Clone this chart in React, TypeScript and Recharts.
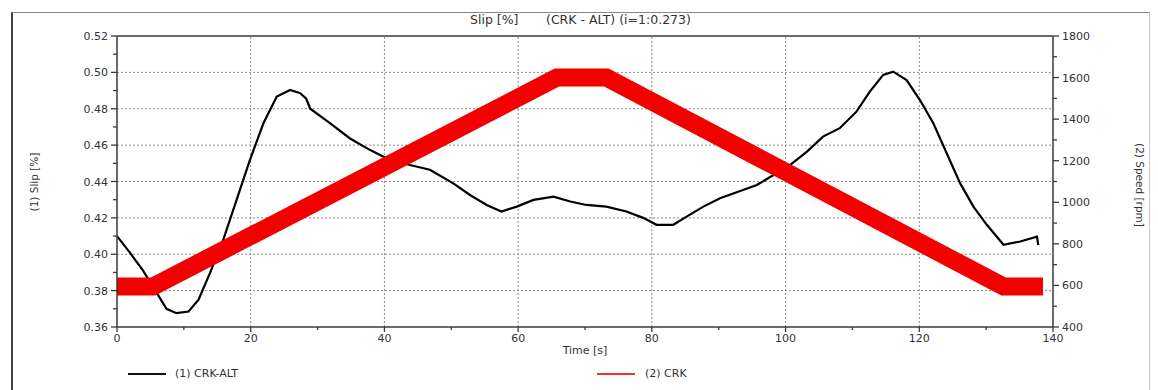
import React from 'react';
import { LineChart, Line, XAxis, YAxis, ReferenceLine } from 'recharts';

// time axis [s]
const timeMajor = [0, 20, 40, 60, 80, 100, 120, 140];
const timeMinor = [10, 30, 50, 70, 90, 110, 130];
// left axis, slip [%]
const slipMajor = [0.36, 0.38, 0.4, 0.42, 0.44, 0.46, 0.48, 0.5, 0.52];
const slipMinor = [0.37, 0.39, 0.41, 0.43, 0.45, 0.47, 0.49, 0.51];
// right axis, speed [rpm]
const speedMajor = [400, 600, 800, 1000, 1200, 1400, 1600, 1800];
const speedMinor = [500, 700, 900, 1100, 1300, 1500, 1700];

// (1) CRK-ALT slip
const slipTime = [
  0, 1.9, 3.9, 5.9, 7.4, 8.9, 10.7, 12.2, 13.9, 15.9, 17.9, 19.9, 21.9, 23.9, 25.9, 27.4, 28.3, 28.9, 31.9,
  34.8, 37.8, 39.8, 43.8, 46.8, 50.3, 52.8, 55.3, 57.5, 59.8, 62.3, 65.3, 67.8, 70.2, 73.2, 76.2, 78.7,
  80.7, 83.2, 85.2, 87.7, 90.2, 93.0, 95.7, 98.2, 100.7, 103.2, 105.6, 108.1, 110.6, 112.6, 114.6,
  116.1, 118.1, 120.1, 122.1, 124.1, 126.1, 128.1, 130.1, 132.6, 135.1, 137.6, 137.8,
];
const slipValue = [
  0.41, 0.401, 0.391, 0.379, 0.37, 0.3676, 0.3685, 0.375, 0.3896, 0.408, 0.43, 0.452, 0.472, 0.4867,
  0.4903, 0.4885, 0.4855, 0.48, 0.472, 0.4638, 0.4574, 0.4537, 0.4491, 0.4465, 0.439, 0.4326, 0.4271, 0.4235,
  0.4262, 0.4299, 0.4317, 0.429, 0.4271, 0.4262, 0.4235, 0.42, 0.4162, 0.4162, 0.4207, 0.4262, 0.4308,
  0.4345, 0.4381, 0.4436, 0.4491, 0.4564, 0.4647, 0.4693, 0.4784, 0.4894, 0.4986, 0.5004, 0.4958,
  0.4848, 0.472, 0.4555, 0.4391, 0.4262, 0.4162, 0.4052, 0.407, 0.4097, 0.405,
];

// (2) CRK speed
const speedTime = [0, 5.4, 65.8, 73.2, 132.6, 138.5];
const speedValue = [595, 595, 1600, 1600, 595, 595];

const slipRows = slipTime.map((t, i) => ({ t, v: slipValue[i] }));
const speedRows = speedTime.map((t, i) => ({ t, v: speedValue[i] }));

const FONT = '"DejaVu Sans", "Liberation Sans", Arial, sans-serif';
const AXIS = '#3a3a3a';
const TEXT = '#333';

const isIn = (list: number[], v: number) => list.some((m) => Math.abs(m - v) < 1e-6);

const XTick = (props: any) => {
  const { x, y, payload } = props;
  const major = isIn(timeMajor, payload.value);
  return (
    <g>
      <line x1={x} x2={x} y1={y} y2={y + (major ? 5 : 3)} stroke={AXIS} strokeWidth={1.3} />
      {major && (
        <text x={x} y={y + 15} textAnchor="middle" fontSize={11} fill={TEXT} fontFamily={FONT}>
          {payload.value}
        </text>
      )}
    </g>
  );
};

const LeftTick = (props: any) => {
  const { x, y, payload } = props;
  const major = isIn(slipMajor, payload.value);
  return (
    <g>
      <line x1={x - (major ? 6 : 4)} x2={x} y1={y} y2={y} stroke={AXIS} strokeWidth={1.3} />
      {major && (
        <text x={x - 9} y={y + 4} textAnchor="end" fontSize={11} fill={TEXT} fontFamily={FONT}>
          {payload.value.toFixed(2)}
        </text>
      )}
    </g>
  );
};

const RightTick = (props: any) => {
  const { x, y, payload } = props;
  const major = isIn(speedMajor, payload.value);
  return (
    <g>
      <line x1={x} x2={x + (major ? 6 : 4)} y1={y} y2={y} stroke={AXIS} strokeWidth={1.3} />
      {major && (
        <text x={x + 9} y={y + 4} textAnchor="start" fontSize={11} fill={TEXT} fontFamily={FONT}>
          {payload.value}
        </text>
      )}
    </g>
  );
};

const txt: React.CSSProperties = {
  position: 'absolute',
  fontFamily: FONT,
  color: TEXT,
  whiteSpace: 'nowrap',
  lineHeight: 1,
};

export default function App() {
  const gridX = timeMajor.slice(1, -1);
  const gridY = slipMajor.slice(1, -1);
  return (
    <div style={{ position: 'absolute', left: 0, top: 0, width: 1158, height: 390, background: '#fff', overflow: 'hidden' }}>
      <div
        style={{
          position: 'absolute',
          left: 11,
          top: 12,
          width: 1136,
          height: 400,
          borderLeft: '2px solid #444',
          borderTop: '1px solid #888',
          borderRight: '1px solid #c8c8c8',
        }}
      />
      <LineChart width={1158} height={390} margin={{ top: 36, right: 45, bottom: 33, left: 57 }} style={{ position: 'absolute', left: 0, top: 0 }}>
        <XAxis
          dataKey="t"
          type="number"
          domain={[0, 140]}
          ticks={[...timeMajor, ...timeMinor].sort((a, b) => a - b)}
          interval={0}
          height={30}
          tickSize={0}
          tickMargin={0}
          tickLine={false}
          tick={XTick}
          axisLine={{ stroke: AXIS, strokeWidth: 1.5 }}
          allowDataOverflow
        />
        <YAxis
          yAxisId="slip"
          type="number"
          domain={[0.36, 0.52]}
          ticks={[...slipMajor, ...slipMinor].sort((a, b) => a - b)}
          interval={0}
          width={60}
          tickSize={0}
          tickMargin={0}
          tickLine={false}
          tick={LeftTick}
          axisLine={{ stroke: AXIS, strokeWidth: 1.5 }}
          allowDataOverflow
        />
        <YAxis
          yAxisId="speed"
          orientation="right"
          type="number"
          domain={[400, 1800]}
          ticks={[...speedMajor, ...speedMinor].sort((a, b) => a - b)}
          interval={0}
          width={60}
          tickSize={0}
          tickMargin={0}
          tickLine={false}
          tick={RightTick}
          axisLine={{ stroke: AXIS, strokeWidth: 1.5 }}
          allowDataOverflow
        />
        {gridX.map((v) => (
          <ReferenceLine key={'gx' + v} x={v} yAxisId="slip" stroke="#8a8a8a" strokeWidth={1} strokeDasharray="2 2" />
        ))}
        {gridY.map((v) => (
          <ReferenceLine key={'gy' + v} y={v} yAxisId="slip" stroke="#8a8a8a" strokeWidth={1} strokeDasharray="2 2" />
        ))}
        <ReferenceLine y={0.52} yAxisId="slip" stroke={AXIS} strokeWidth={1.5} />
        <Line
          data={slipRows}
          dataKey="v"
          yAxisId="slip"
          type="linear"
          stroke="#000"
          strokeWidth={2.2}
          dot={false}
          isAnimationActive={false}
        />
        <Line
          data={speedRows}
          dataKey="v"
          yAxisId="speed"
          type="linear"
          stroke="#f20000"
          strokeWidth={18}
          dot={false}
          isAnimationActive={false}
        />
      </LineChart>

      <div style={{ ...txt, left: 470, top: 14, fontSize: 12.5 }}>Slip [%]</div>
      <div style={{ ...txt, left: 546, top: 14, fontSize: 12.5 }}>(CRK - ALT) (i=1:0.273)</div>

      <div style={{ ...txt, left: 34, top: 182, fontSize: 10.5, transform: 'translate(-50%, -50%) rotate(-90deg)' }}>(1) Slip [%]</div>
      <div style={{ ...txt, left: 1140, top: 185, fontSize: 10.5, transform: 'translate(-50%, -50%) rotate(90deg)' }}>(2) Speed [rpm]</div>
      <div style={{ ...txt, left: 585, top: 350, fontSize: 11, transform: 'translate(-50%, -50%)' }}>Time [s]</div>

      <div style={{ position: 'absolute', left: 128, top: 373, width: 38, height: 1.5, background: '#111' }} />
      <div style={{ ...txt, left: 175, top: 368, fontSize: 11 }}>(1) CRK-ALT</div>
      <div style={{ position: 'absolute', left: 597, top: 373, width: 38, height: 2, background: '#e33' }} />
      <div style={{ ...txt, left: 645, top: 368, fontSize: 11 }}>(2) CRK</div>
    </div>
  );
}
